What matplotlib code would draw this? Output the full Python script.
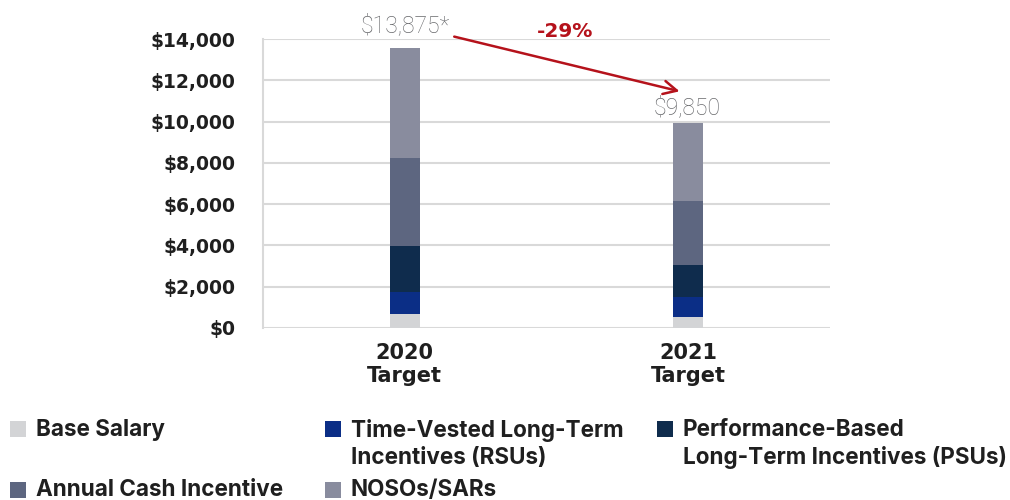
import matplotlib
matplotlib.use("Agg")
import matplotlib.pyplot as plt
from matplotlib.patches import Rectangle
import numpy as np

categories = ["2020\nTarget", "2021\nTarget"]
series_names = ["Base Salary", "Time-Vested Long-Term\nIncentives (RSUs)",
                "Performance-Based\nLong-Term Incentives (PSUs)",
                "Annual Cash Incentive", "NOSOs/SARs"]
base_salary = [690, 550]
rsu = [1070, 950]
psu = [2210, 1550]
annual_cash = [4280, 3120]
nosos = [5330, 3780]
total_labels = ["$13,875*", "$9,850"]
change_label = "-29%"
yticks = [0, 2000, 4000, 6000, 8000, 10000, 12000, 14000]
colors = ["#d3d4d6", "#0b2e86", "#0f2c4d", "#5d6680", "#898c9e"]

plt.rcParams['font.family'] = ['DejaVu Sans']

fig = plt.figure(figsize=(10.1, 5.0), dpi=100)
ax = fig.add_axes([263/1010, 1-328/500, (830-263)/1010, (328-39)/500])

x = np.arange(len(categories))
w = 0.106
bottom = np.zeros(len(categories))
handles = []
for vals, c, name in zip([base_salary, rsu, psu, annual_cash, nosos], colors, series_names):
    b = ax.bar(x, vals, w, bottom=bottom, color=c, label=name, zorder=3)
    handles.append(b)
    bottom = bottom + np.array(vals)

ax.set_xlim(-0.5, 1.5)
ax.set_ylim(0, 14000)
ax.set_yticks(yticks)
ax.set_yticklabels([f"${v:,}" for v in yticks], fontsize=13.5, fontweight='bold', color='#1f1f1f')
ax.set_xticks(x)
ax.set_xticklabels(categories, fontsize=15, fontweight='bold', color='#1f1f1f', linespacing=1.2)
ax.tick_params(axis='both', length=0)
ax.tick_params(axis='y', pad=20)
ax.tick_params(axis='x', pad=11)
ax.grid(axis='y', color='#d9d9d9', linewidth=1.5, zorder=0)
for s in ['top', 'right', 'bottom']:
    ax.spines[s].set_visible(False)
ax.spines['left'].set_color('#d9d9d9')
ax.spines['left'].set_linewidth(1.5)

ax.text(x[0], 14630, total_labels[0], ha='center', va='center', fontsize=16.5,
        color='#68696c', family='Roboto', fontweight='light', clip_on=False)
ax.text(x[1] - 0.005, 10680, total_labels[1], ha='center', va='center', fontsize=16.5,
        color='#68696c', family='Roboto', fontweight='light', clip_on=False)
ax.annotate("", xy=(0.979, 11434), xytext=(0.165, 14147),
            arrowprops=dict(arrowstyle='->', color='#b5121b', lw=1.8, mutation_scale=24),
            annotation_clip=False)
ax.text(0.567, 14340, change_label, ha='center', va='center', fontsize=14.5,
        fontweight='bold', color='#b5121b', clip_on=False)

# legend (manual layout): square centre y, text top y
legend_pos = [(10, 429, 419), (325, 429, 419), (657, 429, 419), (10, 490, 479), (325, 490, 479)]
for (px, py, ty), h, name in zip(legend_pos, handles, series_names):
    fc = h.patches[0].get_facecolor()
    fig.patches.append(Rectangle((px/1010, 1-(py+8)/500), 16/1010, 16/500,
                                 transform=fig.transFigure, facecolor=fc, edgecolor='none'))
    fig.text((px+26)/1010, 1-ty/500, name, ha='left', va='top', fontsize=16.2,
             family='Inter', fontweight='bold', color='#1f1f1f', linespacing=1.3)

fig.savefig("out.png", dpi=100)
